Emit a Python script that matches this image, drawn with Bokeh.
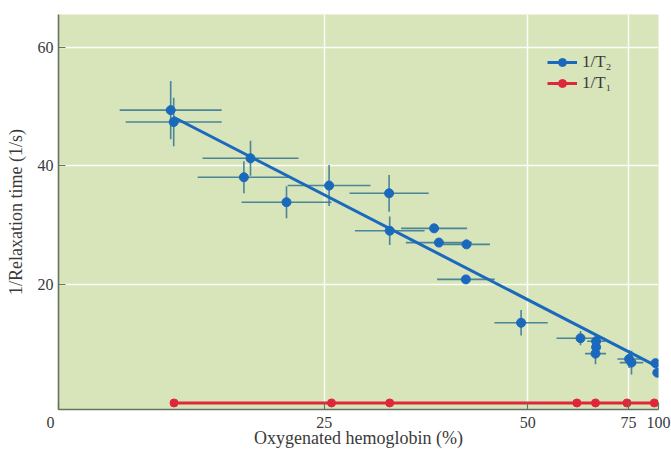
from bokeh.plotting import figure
from bokeh.models import (ColumnDataSource, FixedTicker, Legend, LegendItem,
                          Range1d)
from bokeh.embed import file_html
from bokeh.resources import INLINE

# Horizontal axis is drawn on a stretched oxygenation scale (0-100 along the frame);
# tick positions below place the printed percentages on that scale.
tick_positions = [0.0, 44.3, 78.2, 95.0, 100.0]
tick_labels = ["0\u00a0\u00a0\u00a0\u00a0", "25", "50", "75", "100"]

# 1/T2 measurements (position on axis, rate in 1/s, error half-widths)
t2_x = [18.7, 19.2, 32.0, 30.9, 38.0, 45.1, 55.1, 55.2, 62.6, 63.4, 68.0,
        67.9, 77.1, 87.0, 89.6, 89.6, 89.5, 95.1, 95.5, 99.5, 99.8]
t2_y = [49.4, 47.4, 41.3, 38.1, 33.9, 36.7, 35.4, 29.1, 29.5, 27.1, 26.8,
        20.9, 13.6, 11.0, 10.5, 9.5, 8.4, 7.5, 6.9, 6.8, 5.2]
t2_xerr = [8.5, 8.0, 8.0, 7.7, 7.5, 6.9, 6.6, 5.8, 5.5, 5.5, 3.9,
           4.8, 4.45, 4.0, 1.5, 0.0, 1.75, 1.95, 1.95, 0.0, 0.0]
t2_yerr = [4.9, 4.1, 2.95, 2.7, 2.7, 3.45, 3.1, 2.4, 0.0, 0.0, 0.0,
           0.0, 2.15, 1.2, 1.2, 0.0, 1.8, 1.5, 2.0, 0.0, 0.0]

# straight-line fit through the 1/T2 data
fit_x = [19.2, 99.5]
fit_y = [48.2, 6.4]

# 1/T1 measurements
t1_x = [19.25, 45.5, 55.2, 86.4, 89.5, 94.75, 99.3]
t1_y = [0.1, 0.1, 0.1, 0.1, 0.1, 0.1, 0.1]

BLUE = "#1a69bd"
ERR = "#3b7b92"
RED = "#e0263a"
TEXT = "#3a3a3a"
AXIS = "#65725c"
FONT = "Liberation Serif"

p = figure(width=671, height=450, output_backend="svg", toolbar_location=None,
           x_range=Range1d(0, 100), y_range=Range1d(-1.0, 65.5),
           min_border_left=58, min_border_right=13, min_border_top=14,
           min_border_bottom=40)
p.background_fill_color = "#d8e4ba"
p.border_fill_color = "white"
p.outline_line_color = None

# grid
p.xgrid.ticker = FixedTicker(ticks=tick_positions[1:4])
p.ygrid.ticker = FixedTicker(ticks=[20, 40, 60])
for g in (p.xgrid, p.ygrid):
    g.grid_line_color = "white"
    g.grid_line_width = 1.5
    g.grid_line_alpha = 0.9

# axes
p.xaxis.ticker = FixedTicker(ticks=tick_positions)
p.xaxis.major_label_overrides = {pos: lab for pos, lab in zip(tick_positions, tick_labels)}
p.yaxis.ticker = FixedTicker(ticks=[20, 40, 60])
p.xaxis.axis_label = "Oxygenated hemoglobin (%)"
p.yaxis.axis_label = "1/Relaxation time (1/s)"
for ax in (p.xaxis, p.yaxis):
    ax.axis_line_color = AXIS
    ax.axis_line_width = 1.6
    ax.major_tick_line_color = AXIS
    ax.major_tick_line_width = 1.2
    ax.major_tick_in = 7
    ax.major_tick_out = 0
    ax.minor_tick_line_color = None
    ax.major_label_text_font = FONT
    ax.major_label_text_font_size = "16px"
    ax.major_label_text_color = TEXT
    ax.axis_label_text_font = FONT
    ax.axis_label_text_font_size = "18px"
    ax.axis_label_text_font_style = "normal"
    ax.axis_label_text_color = TEXT
p.xaxis.major_label_standoff = 4
p.xaxis.axis_label_standoff = -6
p.yaxis.major_label_standoff = 5
p.yaxis.axis_label_standoff = 9

# error bars
err = ColumnDataSource(dict(
    x=t2_x, y=t2_y,
    x0=[x - e for x, e in zip(t2_x, t2_xerr)],
    x1=[x + e for x, e in zip(t2_x, t2_xerr)],
    y0=[y - e for y, e in zip(t2_y, t2_yerr)],
    y1=[y + e for y, e in zip(t2_y, t2_yerr)],
))
p.segment(x0="x0", y0="y", x1="x1", y1="y", source=err,
          line_color=ERR, line_width=1.6, line_alpha=0.9)
p.segment(x0="x", y0="y0", x1="x", y1="y1", source=err,
          line_color=ERR, line_width=1.6, line_alpha=0.9)

# 1/T2 fit and points
fit_r = p.line(fit_x, fit_y, line_color=BLUE, line_width=3)
t2_r = p.scatter(t2_x, t2_y, size=9, fill_color=BLUE, line_color=BLUE)

# 1/T1 line and points
t1_line = p.line(t1_x, t1_y, line_color=RED, line_width=3)
t1_r = p.scatter(t1_x, t1_y, size=8, fill_color=RED, line_color=RED)

legend = Legend(items=[
    LegendItem(label="1/T\u2082", renderers=[fit_r, t2_r]),
    LegendItem(label="1/T\u2081", renderers=[t1_line, t1_r]),
], location=(484, 311))
legend.background_fill_alpha = 0
legend.border_line_alpha = 0
legend.label_text_font = FONT
legend.label_text_font_size = "17px"
legend.label_text_color = TEXT
legend.glyph_width = 30
legend.glyph_height = 20
legend.label_height = 20
legend.label_standoff = 5
legend.spacing = 1
legend.padding = 5
legend.margin = 0
p.add_layout(legend)

open("out.html", "w").write(file_html(p, INLINE))
